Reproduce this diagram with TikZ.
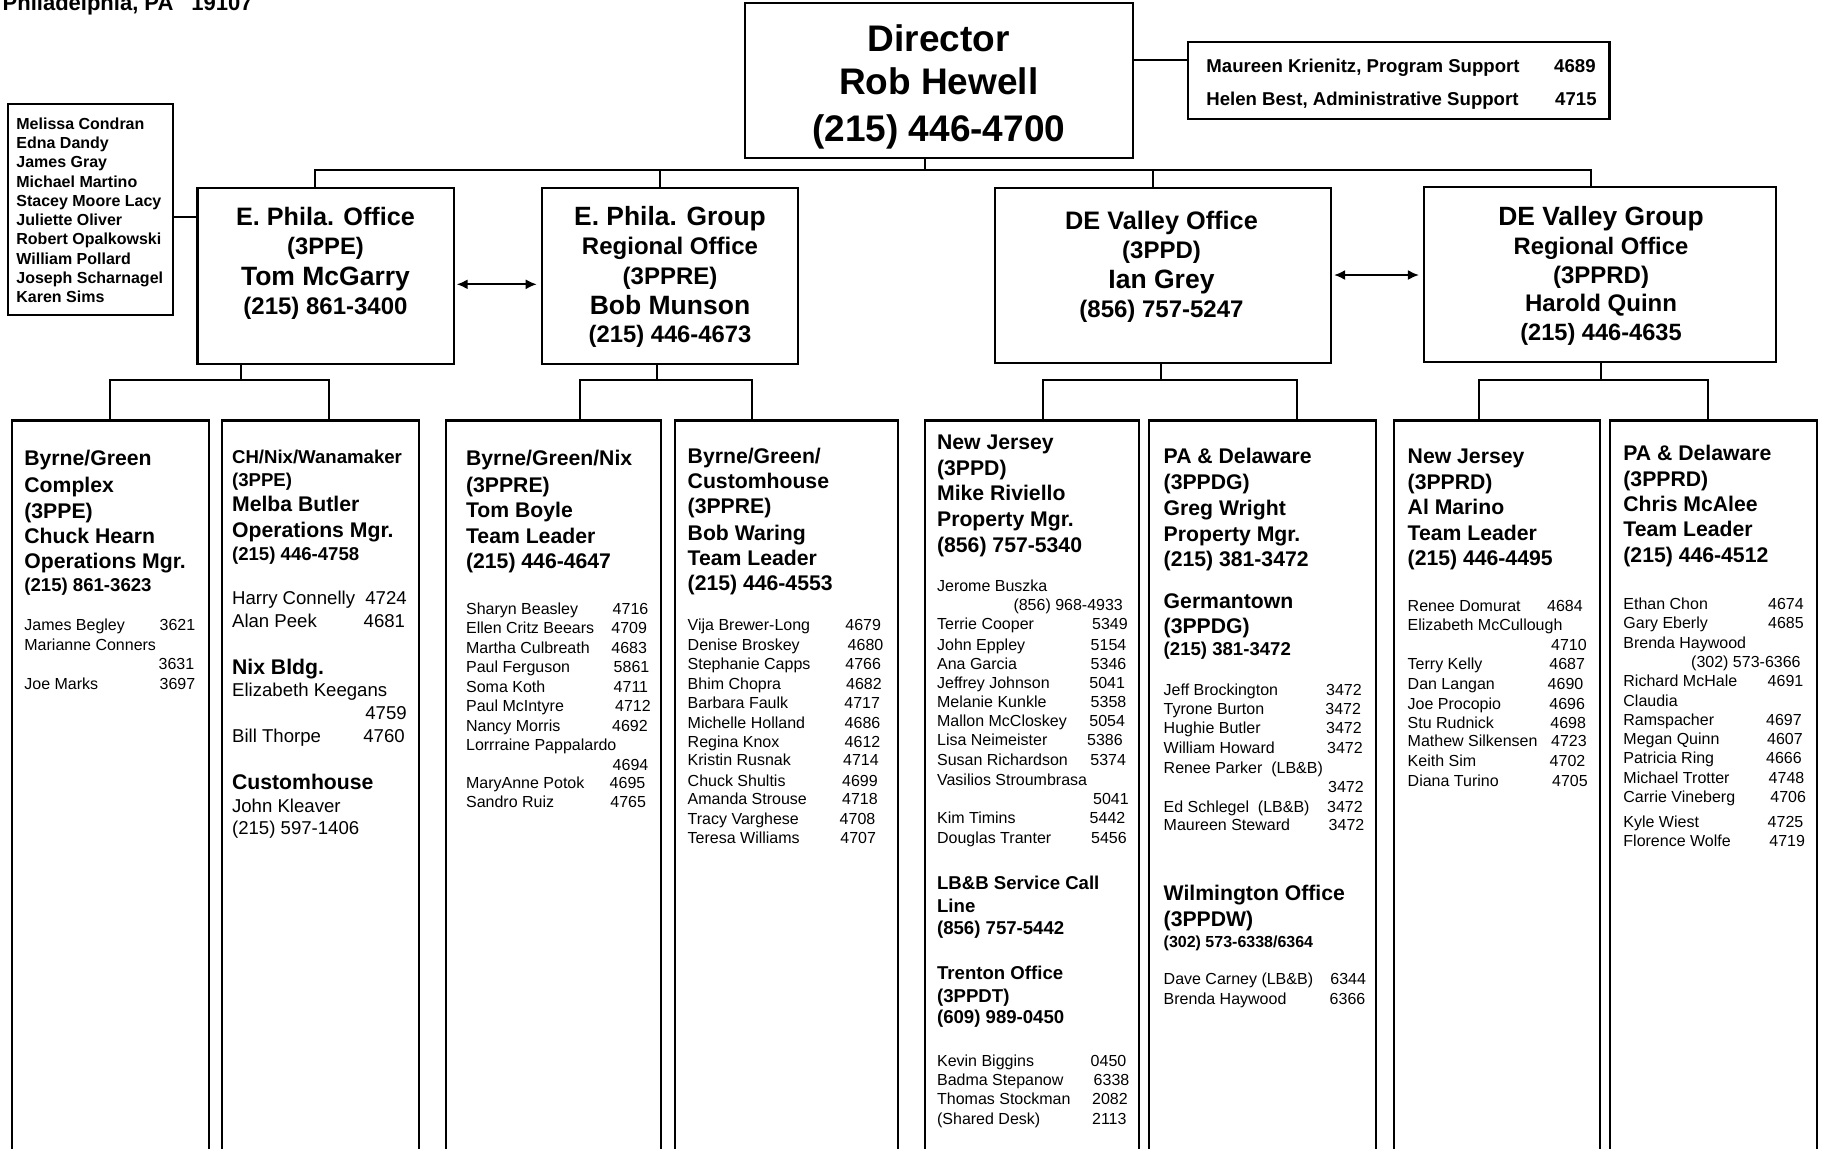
\documentclass[tikz,border=0pt]{standalone}
\usepackage{fontspec}
\setmainfont{Liberation Sans}
\usetikzlibrary{arrows.meta,fit,calc}
\newcounter{ln}
\newcommand{\mytext}[4]{\stepcounter{ln}\node[#1] (t\theln) at (#2,#3) {#4};}
\newcommand{\myrow}[6]{\mytext{#1}{#2}{#3}{#4}\mytext{#1}{#5}{#3}{#6}}
\tikzset{
  x=0.5pt, y=-0.5pt,
  box/.style={draw, line width=1.1pt, inner sep=0pt},
  conn/.style={line width=1pt},
  dar/.style={line width=0.9pt, {Latex[length=5.5pt,width=5pt]}-{Latex[length=5.5pt,width=5pt]}, shorten <=1pt, shorten >=2pt},
  fb/.style={font=\bfseries\fontsize{#1pt}{#1pt}\selectfont, text height=#1*0.716pt, text depth=0pt, inner sep=0pt},
  fr/.style={font=\fontsize{#1pt}{#1pt}\selectfont, text height=#1*0.716pt, text depth=0pt, inner sep=0pt},
  hd/.style={fb=10.6, anchor=west},
  sb/.style={fb=9.3, anchor=west},
  sbR/.style={fb=9.3, anchor=east},
  xs/.style={fb=8, anchor=west},
  nl/.style={fb=8, anchor=west},
  nm/.style={fr=8, anchor=west},
  nmR/.style={fr=8, anchor=east},
  nr/.style={fr=9.3, anchor=west},
  ct/.style={fb=#1, anchor=center},
}
\begin{document}
\begin{tikzpicture}
\useasboundingbox (0,0) rectangle (1824,1148);
\fill[white] (0,0) rectangle (1824,1148);
\clip (0,0) rectangle (1824,1148);

% header text (cut at page edge, as in the original)
\node[fb=11, anchor=base east] (addr) at (253,10) {Philadelphia, PA\hspace{9pt}19107};

% ---------- boxes ----------
\node[box, fit={(744.6,3) (1133,157.7)}] (dir) {};
\node[box, fit={(1188,42) (1609.4,119)}] (sup) {};
\node[box, fit={(7.8,103.7) (173,314.7)}] (names) {};
\node[box, fit={(197.4,187.7) (453.6,364)}] (ephO) {};
\node[box, fit={(541.8,187.7) (798,364)}] (ephG) {};
\node[box, fit={(994.6,187.7) (1331,363.3)}] (devO) {};
\node[box, fit={(1424,186.7) (1776,362.3)}] (devG) {};
\node[box, fit={(11.7,420.5) (209.3,1170)}] (c1) {};
\node[box, fit={(222.3,420.5) (419,1170)}] (c2) {};
\node[box, fit={(446,420.5) (661,1170)}] (c3) {};
\node[box, fit={(675.3,420.5) (897.7,1170)}] (c4) {};
\node[box, fit={(924.7,420.5) (1138.7,1170)}] (c5) {};
\node[box, fit={(1148.7,420.5) (1375.7,1170)}] (c6) {};
\node[box, fit={(1394,420.5) (1600,1170)}] (c7) {};
\node[box, fit={(1609.7,420.5) (1817.3,1170)}] (c8) {};

% ---------- connectors ----------
\coordinate (s0) at (0,60);
\draw[conn] (dir.east |- s0) -- (sup.west |- s0);
\coordinate (n0) at (0,217.3);
\draw[conn] (names.east |- n0) -- (ephO.west |- n0);

\coordinate (j0) at (925,170.3);
\coordinate (j1) at (315,170.3);
\coordinate (j2) at (660,170.3);
\coordinate (j3) at (1153,170.3);
\coordinate (j4) at (1591,170.3);
\draw[conn] (j0 |- dir.south) -- (j0);
\draw[conn] (j1 |- ephO.north) -- (j1) -- (j4) -- (j4 |- devG.north);
\draw[conn] (j2) -- (j2 |- ephG.north);
\draw[conn] (j3) -- (j3 |- devO.north);

\coordinate (k1) at (240.5,379.6);
\coordinate (k1a) at (110,379.6);
\coordinate (k1b) at (329.3,379.6);
\draw[conn] (k1 |- ephO.south) -- (k1);
\draw[conn] (k1a |- c1.north) -- (k1a) -- (k1b) -- (k1b |- c2.north);
\coordinate (k2) at (656.6,379.6);
\coordinate (k2a) at (580,379.6);
\coordinate (k2b) at (751.7,379.6);
\draw[conn] (k2 |- ephG.south) -- (k2);
\draw[conn] (k2a |- c3.north) -- (k2a) -- (k2b) -- (k2b |- c4.north);
\coordinate (k3) at (1161.3,379.6);
\coordinate (k3a) at (1043.3,379.6);
\coordinate (k3b) at (1296.7,379.6);
\draw[conn] (k3 |- devO.south) -- (k3);
\draw[conn] (k3a |- c5.north) -- (k3a) -- (k3b) -- (k3b |- c6.north);
\coordinate (k4) at (1600.5,379.6);
\coordinate (k4a) at (1478.7,379.6);
\coordinate (k4b) at (1708.3,379.6);
\draw[conn] (k4 |- devG.south) -- (k4);
\draw[conn] (k4a |- c7.north) -- (k4a) -- (k4b) -- (k4b |- c8.north);

\coordinate (a1) at (0,284.3);
\draw[dar] (ephO.east |- a1) -- (ephG.west |- a1);
\coordinate (a2) at (0,275);
\draw[dar] (devO.east |- a2) -- (devG.west |- a2);

% ---------- top texts ----------
\mytext{ct=18.5}{938.8}{38}{Director}
\mytext{ct=18.5}{938.8}{81.7}{Rob Hewell}
\mytext{ct=18.5}{938.8}{128}{(215) 446-4700}

\mytext{sb}{1206}{65.5}{Maureen Krienitz, Program Support}
\mytext{sbR}{1596}{65.5}{4689}
\mytext{sb}{1206}{98.5}{Helen Best, Administrative Support}
\mytext{sbR}{1597}{98.5}{4715}

\foreach \n [count=\i] in {Melissa Condran, Edna Dandy, James Gray, Michael Martino, Stacey Moore Lacy, Juliette Oliver, Robert Opalkowski, William Pollard, Joseph Scharnagel, Karen Sims}
  \node[nl] (nl\i) at (16,{104.23+19.27*\i}) {\n};

\mytext{ct=12.6}{325.5}{216}{E. Phila. Office}
\mytext{ct=11.9}{325.5}{246}{(3PPE)}
\mytext{ct=13.25}{325.5}{275.7}{Tom McGarry}
\mytext{ct=12}{325.5}{306}{(215) 861-3400}

\mytext{ct=13.2}{670}{216}{E. Phila. Group}
\mytext{ct=12}{670}{246}{Regional Office}
\mytext{ct=12}{670}{275.7}{(3PPRE)}
\mytext{ct=13.25}{670}{304.5}{Bob Munson}
\mytext{ct=11.9}{670}{334}{(215) 446-4673}

\mytext{ct=12.65}{1161.5}{220}{DE Valley Office}
\mytext{ct=12}{1161.5}{250}{(3PPD)}
\mytext{ct=13.25}{1161.5}{279.3}{Ian Grey}
\mytext{ct=12}{1161.5}{309}{(856) 757-5247}

\mytext{ct=13.2}{1601}{216}{DE Valley Group}
\mytext{ct=11.9}{1601}{245.7}{Regional Office}
\mytext{ct=12}{1601}{275}{(3PPRD)}
\mytext{ct=12}{1601}{303}{Harold Quinn}
\mytext{ct=11.8}{1601}{331.7}{(215) 446-4635}

% ---------- column 1 ----------
\mytext{hd}{24}{458.2}{Byrne/Green}
\mytext{hd}{24}{484.9}{Complex}
\mytext{hd}{24}{510.7}{(3PPE)}
\mytext{hd}{24}{536}{Chuck Hearn}
\mytext{hd}{24}{561.3}{Operations Mgr.}
\mytext{sb}{24}{585.1}{(215) 861-3623}
\myrow{nm}{24}{625.2}{James Begley}{159.3}{3621}
\mytext{nm}{24}{645.2}{Marianne Conners}
\mytext{nm}{158.3}{663.8}{3631}
\myrow{nm}{24}{683.4}{Joe Marks}{159.3}{3697}

% ---------- column 2 ----------
\mytext{sb}{231.7}{457.3}{CH/Nix/Wanamaker}
\mytext{sb}{231.7}{480.2}{(3PPE)}
\mytext{hd}{231.7}{504}{Melba Butler}
\mytext{hd}{231.7}{529.8}{Operations Mgr.}
\mytext{sb}{231.7}{553.6}{(215) 446-4758}
\myrow{nr}{231.7}{597.5}{Harry Connelly}{365}{4724}
\myrow{nr}{231.7}{620.4}{Alan Peek}{363.3}{4681}
\mytext{hd}{231.7}{667.2}{Nix Bldg.}
\mytext{nr}{231.7}{690}{Elizabeth Keegans}
\mytext{nr}{365}{712.5}{4759}
\myrow{nr}{231.7}{735.4}{Bill Thorpe}{363}{4760}
\mytext{hd}{231.7}{781.7}{Customhouse}
\mytext{nr}{231.7}{805.5}{John Kleaver}
\mytext{nr}{231.7}{828}{(215) 597-1406}

% ---------- column 3 ----------
\mytext{hd}{465.7}{458.2}{Byrne/Green/Nix}
\mytext{hd}{465.7}{484.9}{(3PPRE)}
\mytext{hd}{465.7}{509.7}{Tom Boyle}
\mytext{hd}{465.7}{536}{Team Leader}
\mytext{hd}{465.7}{561.3}{(215) 446-4647}
\myrow{nm}{465.7}{609}{Sharyn Beasley}{612.3}{4716}
\myrow{nm}{465.7}{628}{Ellen Critz Beears}{611}{4709}
\myrow{nm}{465.7}{648}{Martha Culbreath}{611}{4683}
\myrow{nm}{465.7}{667.2}{Paul Ferguson}{613.3}{5861}
\myrow{nm}{465.7}{686.3}{Soma Koth}{613.3}{4711}
\myrow{nm}{465.7}{705.8}{Paul McIntyre}{614.7}{4712}
\myrow{nm}{465.7}{725.4}{Nancy Morris}{611.7}{4692}
\mytext{nm}{465.7}{744.5}{Lorrraine Pappalardo}
\mytext{nm}{612.3}{764.5}{4694}
\myrow{nm}{465.7}{783}{MaryAnne Potok}{609.3}{4695}
\myrow{nm}{465.7}{802.2}{Sandro Ruiz}{610}{4765}

% ---------- column 4 ----------
\mytext{hd}{687.3}{456.3}{Byrne/Green/}
\mytext{hd}{687.3}{481.1}{Customhouse}
\mytext{hd}{687.3}{505.9}{(3PPRE)}
\mytext{hd}{687.3}{532.6}{Bob Waring}
\mytext{hd}{687.3}{557.4}{Team Leader}
\mytext{hd}{687.3}{582.7}{(215) 446-4553}
\myrow{nm}{687.3}{625.2}{Vija Brewer-Long}{845}{4679}
\myrow{nm}{687.3}{644.3}{Denise Broskey}{847.3}{4680}
\myrow{nm}{687.3}{663.8}{Stephanie Capps}{845}{4766}
\myrow{nm}{687.3}{683.4}{Bhim Chopra}{845.7}{4682}
\myrow{nm}{687.3}{702.5}{Barbara Faulk}{844}{4717}
\myrow{nm}{687.3}{722.5}{Michelle Holland}{844.3}{4686}
\myrow{nm}{687.3}{741.6}{Regina Knox}{844.3}{4612}
\myrow{nm}{687.3}{760.2}{Kristin Rusnak}{842.7}{4714}
\myrow{nm}{687.3}{780.3}{Chuck Shultis}{841.7}{4699}
\myrow{nm}{687.3}{798.9}{Amanda Strouse}{841.7}{4718}
\myrow{nm}{687.3}{818.4}{Tracy Varghese}{839.3}{4708}
\myrow{nm}{687.3}{838}{Teresa Williams}{840}{4707}

% ---------- column 5 ----------
\mytext{hd}{936.7}{442}{New Jersey}
\mytext{hd}{936.7}{468.2}{(3PPD)}
\mytext{hd}{936.7}{493}{Mike Riviello}
\mytext{hd}{936.7}{519.3}{Property Mgr.}
\mytext{hd}{936.7}{544.6}{(856) 757-5340}
\mytext{nm}{936.7}{586}{Jerome Buszka}
\mytext{nmR}{1123.3}{605.2}{(856) 968-4933}
\myrow{nm}{936.7}{624.2}{Terrie Cooper}{1091.7}{5349}
\myrow{nm}{936.7}{644.3}{John Eppley}{1090.3}{5154}
\myrow{nm}{936.7}{663.4}{Ana Garcia}{1090.3}{5346}
\myrow{nm}{936.7}{682.4}{Jeffrey Johnson}{1089}{5041}
\myrow{nm}{936.7}{702}{Melanie Kunkle}{1090.3}{5358}
\myrow{nm}{936.7}{721.1}{Mallon McCloskey}{1089}{5054}
\myrow{nm}{936.7}{740.2}{Lisa Neimeister}{1086.7}{5386}
\myrow{nm}{936.7}{760.2}{Susan Richardson}{1090}{5374}
\mytext{nm}{936.7}{779.3}{Vasilios Stroumbrasa}
\mytext{nm}{1092.7}{798.4}{5041}
\myrow{nm}{936.7}{818}{Kim Timins}{1089.3}{5442}
\myrow{nm}{936.7}{837.5}{Douglas Tranter}{1090.7}{5456}
\mytext{sb}{936.7}{883.3}{LB\&B Service Call}
\mytext{sb}{936.7}{905.7}{Line}
\mytext{sb}{936.7}{928.2}{(856) 757-5442}
\mytext{sb}{936.7}{972.5}{Trenton Office}
\mytext{sb}{936.7}{995.4}{(3PPDT)}
\mytext{sb}{936.7}{1016.9}{(609) 989-0450}
\myrow{nm}{936.7}{1060.8}{Kevin Biggins}{1090.3}{0450}
\myrow{nm}{936.7}{1079.9}{Badma Stepanow}{1093.3}{6338}
\myrow{nm}{936.7}{1099}{Thomas Stockman}{1091.7}{2082}
\myrow{nm}{936.7}{1119}{(Shared Desk)}{1091.7}{2113}

% ---------- column 6 ----------
\mytext{hd}{1163.3}{455.8}{PA \& Delaware}
\mytext{hd}{1163.3}{482.1}{(3PPDG)}
\mytext{hd}{1163.3}{507.8}{Greg Wright}
\mytext{hd}{1163.3}{533.6}{Property Mgr.}
\mytext{hd}{1163.3}{558.4}{(215) 381-3472}
\mytext{hd}{1163.3}{600.4}{Germantown}
\mytext{hd}{1163.3}{625.7}{(3PPDG)}
\mytext{sb}{1163.3}{649}{(215) 381-3472}
\myrow{nm}{1163.3}{689.6}{Jeff Brockington}{1325.7}{3472}
\myrow{nm}{1163.3}{708.7}{Tyrone Burton}{1325}{3472}
\myrow{nm}{1163.3}{728.2}{Hughie Butler}{1325.7}{3472}
\myrow{nm}{1163.3}{747.8}{William Howard}{1326.7}{3472}
\mytext{nm}{1163.3}{767.4}{Renee Parker\ \ (LB\&B)}
\mytext{nm}{1327.7}{786.5}{3472}
\myrow{nm}{1163.3}{806.5}{Ed Schlegel\ \ (LB\&B)}{1326.7}{3472}
\myrow{nm}{1163.3}{825.1}{Maureen Steward}{1328.3}{3472}
\mytext{hd}{1163.3}{892.4}{Wilmington Office}
\mytext{hd}{1163.3}{918.6}{(3PPDW)}
\mytext{xs}{1163.3}{941.5}{(302) 573-6338/6364}
\myrow{nm}{1163.3}{978.7}{Dave Carney (LB\&B)}{1330}{6344}
\myrow{nm}{1163.3}{998.8}{Brenda Haywood}{1329.3}{6366}

% ---------- column 7 ----------
\mytext{hd}{1407.3}{455.8}{New Jersey}
\mytext{hd}{1407.3}{482.1}{(3PPRD)}
\mytext{hd}{1407.3}{506.4}{Al Marino}
\mytext{hd}{1407.3}{532.6}{Team Leader}
\mytext{hd}{1407.3}{557.4}{(215) 446-4495}
\myrow{nm}{1407.3}{606.1}{Renee Domurat}{1546.7}{4684}
\mytext{nm}{1407.3}{625.2}{Elizabeth McCullough}
\mytext{nm}{1550.7}{644.7}{4710}
\myrow{nm}{1407.3}{663.8}{Terry Kelly}{1549}{4687}
\myrow{nm}{1407.3}{683.4}{Dan Langan}{1547.3}{4690}
\myrow{nm}{1407.3}{703.4}{Joe Procopio}{1549}{4696}
\myrow{nm}{1407.3}{722.5}{Stu Rudnick}{1550}{4698}
\myrow{nm}{1407.3}{741.1}{Mathew Silkensen}{1550.7}{4723}
\myrow{nm}{1407.3}{761.2}{Keith Sim}{1549.3}{4702}
\myrow{nm}{1407.3}{780.3}{Diana Turino}{1551.7}{4705}

% ---------- column 8 ----------
\mytext{hd}{1623}{452.5}{PA \& Delaware}
\mytext{hd}{1623}{478.7}{(3PPRD)}
\mytext{hd}{1623}{503.5}{Chris McAlee}
\mytext{hd}{1623}{529.3}{Team Leader}
\mytext{hd}{1623}{555}{(215) 446-4512}
\myrow{nm}{1623}{603.7}{Ethan Chon}{1767.7}{4674}
\myrow{nm}{1623}{622.3}{Gary Eberly}{1767.7}{4685}
\mytext{nm}{1623}{642.4}{Brenda Haywood}
\mytext{nmR}{1801}{661.5}{(302) 573-6366}
\myrow{nm}{1623}{680.5}{Richard McHale}{1767.3}{4691}
\mytext{nm}{1623}{700.6}{Claudia}
\myrow{nm}{1623}{719.7}{Ramspacher}{1765.7}{4697}
\myrow{nm}{1623}{738.7}{Megan Quinn}{1766.7}{4607}
\myrow{nm}{1623}{757.8}{Patricia Ring}{1765.7}{4666}
\myrow{nm}{1623}{777.4}{Michael Trotter}{1768.3}{4748}
\myrow{nm}{1623}{796.5}{Carrie Vineberg}{1770}{4706}
\myrow{nm}{1623}{821.3}{Kyle Wiest}{1767.3}{4725}
\myrow{nm}{1623}{840.8}{Florence Wolfe}{1769}{4719}
\end{tikzpicture}
\end{document}
